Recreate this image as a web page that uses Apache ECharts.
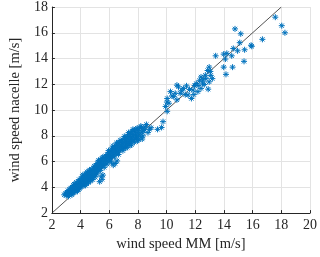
<!DOCTYPE html>
<html><head><meta charset="utf-8">
<script src="https://cdn.jsdelivr.net/npm/echarts@6/dist/echarts.min.js"></script>
<style>html,body{margin:0;padding:0;background:#fff}#c{width:320px;height:257px}</style>
</head><body><div id="c"></div>
<script>
// [wind speed MM, wind speed nacelle] in m/s
const windPairs = [
[2.86,3.42],[2.95,3.55],[3.0,3.38],[3.05,3.62],[3.1,3.48],[3.12,3.75],[3.18,3.55],[3.2,3.4],[3.24,3.82],[3.28,3.6],[3.32,3.7],[3.35,3.5],[3.38,3.92],[3.42,3.65],[3.45,3.78],[3.48,4.02],[3.52,3.6],[3.55,3.88],[3.58,4.1],[3.62,3.75],[3.65,3.98],[3.68,4.22],[3.72,3.85],[3.75,4.08],[3.78,3.7],[3.8,4.3],[3.83,4.0],[3.86,4.18],[3.9,4.42],[3.92,3.9],[3.95,4.25],[3.98,4.55],[4.0,4.08],[3.55,4.25],[3.7,4.4],
[4.03,4.35],[4.05,4.68],[4.08,4.2],[4.1,4.5],[4.13,4.82],[4.16,4.97],[4.18,4.3],[4.2,4.62],[4.23,4.45],[4.26,4.9],[4.28,4.2],[4.3,4.7],[4.33,4.52],[4.36,5.05],[4.38,4.35],[4.4,4.8],[4.43,4.6],[4.46,4.95],[4.48,4.45],[4.5,5.12],[4.53,4.72],[4.56,4.5],[4.58,4.9],[4.6,5.2],[4.63,4.65],[4.66,5.0],[4.68,4.8],[4.7,5.3],[4.73,4.62],[4.76,5.1],[4.78,4.9],[4.8,5.4],[4.83,4.75],[4.86,5.22],[4.88,5.0],[4.9,5.5],[4.93,4.85],[4.96,5.3],[4.98,5.1],[5.0,5.6],
[5.03,5.0],[5.05,5.4],[5.08,5.7],[5.1,5.2],[5.13,5.5],[5.16,5.85],[5.18,5.3],[5.2,5.6],[5.23,5.95],[5.26,5.4],[5.28,5.75],[5.3,6.05],[5.33,5.5],[5.36,5.85],[5.4,6.1],[5.43,5.6],[5.46,5.95],[5.5,6.25],[5.53,5.7],[5.56,6.0],[5.6,5.8],[5.63,6.3],[5.66,6.05],[5.7,5.85],[5.73,6.2],[5.76,6.45],[5.8,6.0],[5.83,6.3],[5.86,6.55],[5.9,6.1],[5.93,6.4],[5.96,6.7],[6.0,6.2],
[5.33,4.44],[5.44,4.82],[5.5,4.62],[5.56,4.95],[6.28,5.72],[6.42,5.85],[6.55,6.05],[6.15,5.95],
[6.03,6.5],[6.06,6.8],[6.1,6.3],[6.13,6.6],[6.16,6.95],[6.2,6.4],[6.23,6.75],[6.26,7.05],[6.3,6.5],[6.33,6.85],[6.36,7.15],[6.4,6.6],[6.43,6.95],[6.46,7.25],[6.5,6.7],[6.53,7.0],[6.56,7.35],[6.6,6.8],[6.63,7.1],[6.66,7.45],[6.7,6.85],[6.73,7.2],[6.76,7.5],[6.8,6.95],[6.83,7.3],[6.86,7.6],[6.9,7.0],[6.93,7.35],[6.96,7.7],[7.0,7.1],
[7.03,7.45],[7.06,7.8],[7.1,7.2],[7.13,7.55],[7.16,7.9],[7.2,7.3],[7.23,7.65],[7.26,8.0],[7.3,7.4],[7.33,7.75],[7.36,8.1],[7.4,7.45],[7.43,7.85],[7.46,8.2],[7.5,7.55],[7.53,7.95],[7.56,8.3],[7.6,7.6],[7.63,8.0],[7.66,8.35],[7.7,7.7],[7.73,8.1],[7.76,8.45],[7.8,7.75],[7.83,8.15],[7.86,8.5],[7.9,7.85],[7.93,8.25],[7.96,7.6],[8.0,8.4],[8.05,8.0],[8.1,8.55],[8.15,8.2],[8.2,7.9],[8.25,8.65],[8.3,8.3],[8.35,8.0],[8.45,8.5],[7.25,7.1],[7.55,7.3],
[3.15,3.3],[3.4,3.42],[3.6,3.62],[3.85,3.82],[3.3,3.95],[3.5,4.15],[3.9,4.6],[4.1,4.05],[4.35,4.15],[4.15,4.7],[4.45,5.2],[4.55,4.35],[4.7,4.5],[4.62,5.35],[4.85,4.6],[4.95,5.65],[5.0,4.8],[5.15,5.05],[5.25,6.1],[5.38,5.3],[5.55,6.35],[5.65,5.55],[5.85,5.8],[5.95,6.85],[6.05,6.05],[6.25,7.2],[6.35,6.35],[6.5,7.45],[6.65,6.55],[6.75,7.65],[6.95,6.85],[7.05,7.95],[7.15,7.05],[7.35,8.25],[7.45,7.25],[7.65,8.5],[7.75,7.5],[7.95,8.6],[8.05,7.7],[8.2,8.75],[8.3,7.75],[8.5,8.7],[4.25,4.75],[4.4,4.4],[4.65,4.85],[5.12,5.35],[5.45,5.75],[6.12,6.45],[6.45,6.8],[6.85,7.15],[7.2,7.5],[7.55,7.7],[7.85,8.0],
[8.36,8.38],[8.59,8.88],[8.7,8.25],[8.81,8.5],[8.92,8.63],[9.37,8.5],[9.65,8.65],[9.75,9.1],[10.04,9.9],
[9.93,10.28],[10.04,10.9],[10.16,10.53],[10.02,10.62],[10.27,11.43],[10.38,11.1],[10.5,11.04],[10.6,11.3],[10.72,11.93],[10.72,10.79],[10.83,11.8],[10.95,11.3],[11.05,11.5],[11.17,11.68],[11.3,11.2],[11.39,11.88],[11.5,11.17],[11.6,11.6],[11.73,10.9],[11.85,11.55],[11.95,11.9],[12.07,12.06],[12.18,11.43],[12.3,12.31],[12.4,11.68],[12.4,12.57],[12.5,12.1],[12.63,11.98],[12.7,12.7],[12.74,12.44],[12.86,13.07],[12.9,11.62],[12.97,13.33],[12.97,12.19],[13.08,12.69],[13.19,12.44],[12.2,11.9],[11.9,11.2],[12.55,12.35],[13.05,13.0],
[13.42,14.21],[13.98,14.34],[14.2,14.4],[14.54,14.21],[14.1,13.96],[13.98,13.33],[14.6,13.33],[14.14,12.77],[15.4,13.78],[14.65,14.78],[14.77,16.3],[14.95,14.6],[15.1,15.23],[15.17,15.92],[15.44,14.68],[15.89,15.03],[15.94,14.95],[16.68,15.49],[17.58,17.21],[18.03,16.55],[18.25,16.0]
];
const identityLine = [[2,2],[18,18]];
const xRange = [2, 20];
const yRange = [2, 18];
const xTitle = 'wind speed MM [m/s]';
const yTitle = 'wind speed nacelle [m/s]';

const FONT = 'Liberation Serif';
const chart = echarts.init(document.getElementById('c'), null, {renderer:'canvas'});
const axisCommon = {
  type:'value', interval:2,
  axisLine:{show:true, lineStyle:{color:'#262626', width:1}},
  axisTick:{show:true, inside:true, length:3, lineStyle:{color:'#262626'}},
  splitLine:{show:true, lineStyle:{color:'#e3e3e3', width:1}},
  axisLabel:{color:'#262626', fontFamily:FONT, fontSize:14},
  nameLocation:'middle',
  nameTextStyle:{color:'#262626', fontFamily:FONT, fontSize:14.5}
};
chart.setOption({
  animation:false,
  grid:{left:44, right:9, top:7, bottom:40, containLabel:false},
  xAxis:Object.assign({}, axisCommon, {min:xRange[0], max:xRange[1], name:xTitle, nameGap:23,
    axisLabel:Object.assign({}, axisCommon.axisLabel, {margin:5})}),
  yAxis:Object.assign({}, axisCommon, {min:yRange[0], max:yRange[1], name:yTitle, nameGap:28,
    axisLabel:Object.assign({}, axisCommon.axisLabel, {margin:4})}),
  series:[
    {type:'line', data:identityLine, symbol:'none', lineStyle:{color:'#262626', width:0.8}, z:1},
    {type:'scatter', data:windPairs, symbol:'path://M5 0 L5 10 M0 5 L10 5 M1.5 1.5 L8.5 8.5 M8.5 1.5 L1.5 8.5',
     symbolSize:6, itemStyle:{color:'rgba(0,0,0,0)', borderColor:'#0072BD', borderWidth:1, opacity:1}, z:2}
  ]
});
</script></body></html>
